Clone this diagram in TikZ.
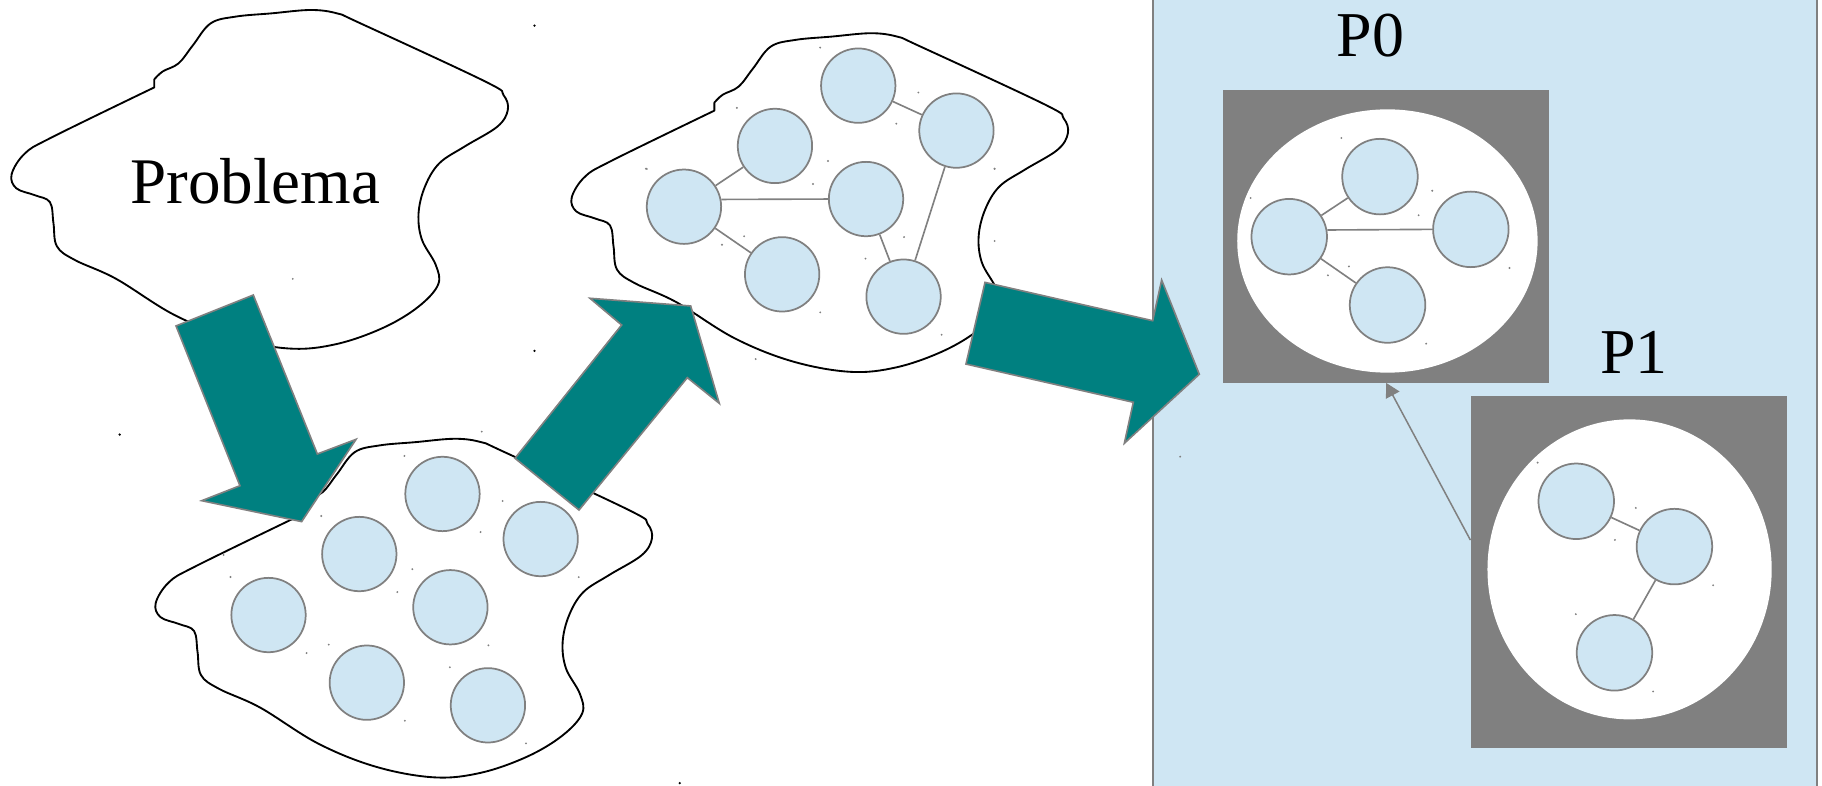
\documentclass[tikz,border=0pt]{standalone}
\usepackage{fontspec}
\setmainfont{Liberation Serif}
\usetikzlibrary{shapes.geometric,arrows.meta,calc}
\definecolor{lblue}{RGB}{207,230,243}
\definecolor{ngray}{RGB}{128,128,128}
\definecolor{tealc}{RGB}{0,128,128}
\newcommand{\mycloud}[2]{%
\draw[cloudline, shift={(#1,#2)}] plot[smooth, tension=0.6] coordinates {
(132.8,68.3) (140,61.5) (153.7,54.5) (166,39) (181.3,20.1) (202.8,14.3)
(233.6,11.5) (267.4,8.6) (290,11.5) (310,20) (417.9,70.3) (433.3,81.8)
(437.0,94.7) (428,109) (400,126) (378,140.6) (365.7,160.6) (360.2,183.6)
(363,206) (375,228) (377,245) (360,264) (330,282) (290,296) (250,300)
(200,291) (150,271) (100,240) (64.5,223.8) (49,212) (46,192) (43,174)
(30,168) (14,162) (10,150) (21.5,132) (45,118) (132.8,75.2)} -- cycle;}
\newcommand{\nodedots}[1]{\fill[ngray] (#1.north -| #1.west) circle (0.9) (#1.south -| #1.east) circle (0.9);}
\tikzset{
 cloudline/.style={draw=black, line width=1.6pt, fill=white, line join=round},
 circnode/.style={circle, draw=ngray, fill=lblue, line width=1.5pt, minimum size=64pt, inner sep=0pt},
 edge/.style={draw=ngray, line width=1.4pt},
 bigarrow/.style={fill=tealc, draw=ngray, line width=1.4pt, line join=miter},
 pbox/.style={rectangle, fill=ngray, inner sep=0pt},
 hole/.style={ellipse, fill=white, inner sep=0pt},
 lbl/.style={font=\fontsize{55}{60}\selectfont, anchor=base, inner sep=0pt},
}
\begin{document}
\begin{tikzpicture}[x=1pt,y=-1pt]
\useasboundingbox (0,0) rectangle (1568,676);
% right panel
\fill[lblue] (992.5,-3) rectangle (1563.5,680);
\draw[ngray, line width=1.4pt] (992.5,-3) -- (992.5,680);
\draw[ngray, line width=1.4pt] (1563.5,-3) -- (1563.5,680);
% clouds
\mycloud{0}{0}
\mycloud{124}{369}
\mycloud{482}{20}
\node[lbl, font=\fontsize{56}{60}\selectfont] (prob) at (219.7,175) {Problema};
% cloud 2 circles
\node[circnode] (b1) at (380.8,425.1) {};
\node[circnode] (b2) at (309.2,476.8) {};
\node[circnode] (b3) at (465.3,463.9) {};
\node[circnode] (b4) at (231.1,529.3) {};
\node[circnode] (b5) at (387.6,522.6) {};
\node[circnode] (b6) at (315.7,587.5) {};
\node[circnode] (b7) at (419.9,607.0) {};
\foreach \n in {b1,b2,b3,b4,b5,b6,b7} {\nodedots{\n}}
% cloud 3 circles
\node[circnode] (cA) at (738.6,73.7) {};
\node[circnode] (cB) at (823.1,112.4) {};
\node[circnode] (cC) at (666.9,125.6) {};
\node[circnode] (cD) at (588.6,177.9) {};
\node[circnode] (cE) at (745.3,171.3) {};
\node[circnode] (cF) at (673.1,236.1) {};
\node[circnode] (cG) at (777.6,255.3) {};
\foreach \n in {cA,cB,cC,cD,cE,cF,cG} {\nodedots{\n}}
\draw[edge] (cA) -- (cB);
\draw[edge] (cC) -- (cD);
\draw[edge] (cD.11) -- (cE.west);
\draw[edge] (cD) -- (cF);
\draw[edge] (cE) -- (cG);
\draw[edge] (cB) -- (cG);
% P0
\node[pbox, minimum width=280.2pt, minimum height=251.8pt] (P0box) at (1192.9,203.4) {};
\node[hole, minimum width=258.5pt, minimum height=226.6pt] (P0hole) at (1194,207.4) {};
\node[circnode, minimum size=65pt] (p0a) at (1187.6,152) {};
\node[circnode, minimum size=65pt] (p0b) at (1109.5,203.7) {};
\node[circnode, minimum size=65pt] (p0c) at (1265.8,197.4) {};
\node[circnode, minimum size=65pt] (p0d) at (1194.1,262.5) {};
\foreach \n in {p0a,p0b,p0c,p0d} {\nodedots{\n}}
\draw[edge] (p0b) -- (p0a);
\draw[edge] (p0b.10) -- (p0c.west);
\draw[edge] (p0b) -- (p0d);
\node[lbl] (P0lbl) at (1179.6,48.8) {P0};
% P1
\node[pbox, minimum width=272pt, minimum height=303.2pt] (P1box) at (1401.6,492.4) {};
\node[hole, minimum width=244.6pt, minimum height=258.2pt] (P1hole) at (1402.4,490) {};
\node[circnode, minimum size=65pt] (p1a) at (1356.5,431.4) {};
\node[circnode, minimum size=65pt] (p1b) at (1441,470.4) {};
\node[circnode, minimum size=65pt] (p1c) at (1389.4,561.8) {};
\foreach \n in {p1a,p1b,p1c} {\nodedots{\n}}
\draw[edge] (p1a) -- (p1b);
\draw[edge] (p1b) -- (p1c);
\node[lbl] (P1lbl) at (1406,321.3) {P1};
\draw[ngray, line width=1.3pt, -{Triangle[length=12pt,width=13pt]}] ($(P1box.north west)!0.409!(P1box.south west)$) -- (P0box.south);
% isolated dots
\foreach \p in {(460,22),(460,302),(103,374),(585,674)} {\fill[black] \p circle (1.1);}
\foreach \p in {(252,240),(414.6,371.5),(192.4,477.6),(556.6,145.4),(856,145.4),(856,207.4),(650.3,309),(1015.6,393)} {\fill[ngray] \p circle (0.9);}
% big arrows
\draw[bigarrow] (151.5,280.5) -- (218,253.9) -- (273.1,390.7) -- (306.4,378.1) -- (259.6,448.9) -- (173.6,430.9) -- (206.5,418) -- cycle;
\draw[bigarrow] (443.2,394.4) -- (535,279.7) -- (507.7,256.7) -- (594.4,263.3) -- (619,347.1) -- (591.5,325) -- (498.3,438.9) -- cycle;
\draw[bigarrow] (847.7,243) -- (992,276) -- (999.7,241) -- (1032.1,322.1) -- (967.6,381.5) -- (975.3,346.2) -- (831.3,313.3) -- cycle;
\end{tikzpicture}
\end{document}
